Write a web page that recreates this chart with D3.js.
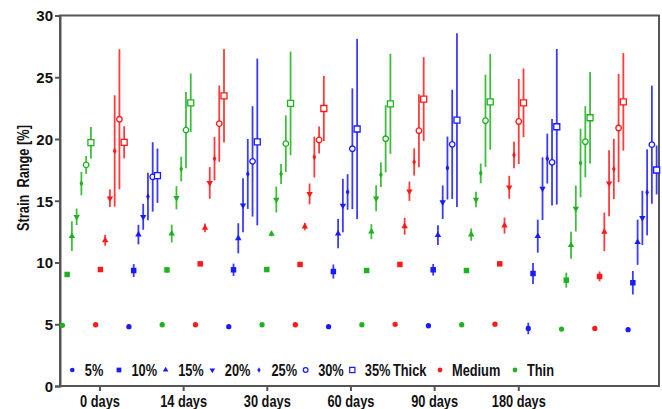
<!DOCTYPE html>
<html>
<head>
<meta charset="utf-8">
<script src="https://cdn.jsdelivr.net/npm/d3@7"></script>
<style>
  body { margin: 0; background: #fff; }
  svg { display: block; }
  .nar { font-family: "Liberation Sans", Arial, sans-serif; font-weight: bold; font-size: 16px; fill: #111; }
  .ytk { font-family: "Liberation Sans", Arial, sans-serif; font-weight: bold; font-size: 15px; fill: #111; }
</style>
</head>
<body>
<script>
// categories
const times = ['0 days', '14 days', '30 days', '60 days', '90 days', '180 days'];
const timeTickAt = [7.8, 25.4, 43.0, 60.6, 78.2, 95.9];   // slot position of each time label
const strains = ['5%', '10%', '15%', '20%', '25%', '30%', '35%'];
const materials = ['Thin', 'Medium', 'Thick'];           // drawing order inside each time
const yTicks = [0, 5, 10, 15, 20, 25, 30];

// mean strain range [%], rows = times, cols = strains
const thinMean = [
  [4.91, 9.03, 12.13, 13.70, 16.39, 17.90, 19.70],
  [4.96, 9.40, 12.34, 15.24, 17.57, 20.72, 22.93],
  [4.96, 9.43, 12.32, 15.10, 17.17, 19.62, 22.88],
  [4.96, 9.35, 12.50, 15.20, 17.11, 20.02, 22.85],
  [4.96, 9.35, 12.26, 15.10, 17.22, 21.48, 23.01],
  [4.61, 8.57, 11.40, 14.37, 18.06, 19.78, 21.72]
];
const thinErr = [
  [0.1, 0.15, 1.20, 0.67, 0.95, 0.72, 1.27],
  [0.1, 0.20, 0.72, 0.94, 1.00, 3.08, 2.37],
  [0.1, 0.15, 0.20, 1.05, 0.81, 2.29, 4.20],
  [0.1, 0.15, 0.61, 1.05, 1.00, 2.72, 4.05],
  [0.1, 0.15, 0.50, 0.63, 0.80, 3.73, 3.88],
  [0.1, 0.61, 1.10, 1.86, 2.78, 2.88, 3.71]
];
const mediumMean = [
  [4.96, 9.43, 11.80, 15.20, 19.03, 21.60, 19.73],
  [4.96, 9.89, 12.80, 16.44, 18.41, 21.24, 23.50],
  [4.96, 9.84, 12.91, 15.55, 18.54, 19.92, 22.47],
  [4.99, 9.84, 12.93, 15.77, 18.14, 20.67, 23.23],
  [5.01, 9.89, 12.99, 16.09, 18.70, 21.42, 22.93],
  [4.66, 8.87, 12.48, 16.41, 17.57, 20.89, 23.01]
];
const mediumErr = [
  [0.1, 0.1, 0.44, 0.71, 4.51, 5.67, 1.30],
  [0.1, 0.1, 0.36, 1.28, 1.76, 3.09, 3.79],
  [0.1, 0.1, 0.30, 0.84, 1.65, 1.10, 2.64],
  [0.1, 0.1, 0.68, 0.78, 1.10, 2.95, 3.40],
  [0.1, 0.1, 0.65, 0.93, 1.07, 3.44, 2.78],
  [0.1, 0.4, 1.56, 2.67, 2.44, 4.38, 3.95]
];
const thickMean = [
  [4.80, 9.35, 12.26, 13.70, 15.34, 16.93, 17.03],
  [4.80, 9.41, 11.96, 14.63, 17.17, 18.19, 19.76],
  [4.80, 9.27, 12.34, 14.61, 15.71, 19.21, 20.81],
  [4.88, 9.41, 12.21, 14.88, 17.65, 19.57, 21.53],
  [4.66, 9.11, 12.13, 15.98, 18.41, 18.11, 20.99],
  [4.56, 8.36, 11.64, 13.61, 15.68, 19.54, 17.49]
];
const thickErr = [
  [0.10, 0.52, 0.79, 1.05, 1.92, 2.81, 2.20],
  [0.10, 0.50, 1.22, 2.19, 2.83, 4.47, 6.75],
  [0.10, 0.57, 1.19, 2.17, 1.44, 4.89, 7.30],
  [0.10, 0.47, 0.80, 1.36, 2.55, 4.42, 7.04],
  [0.47, 0.85, 1.34, 2.54, 2.02, 3.50, 6.30],
  [0.10, 0.95, 1.83, 2.20, 3.48, 4.78, 1.98]
];

const w = 662, h = 409;
const squeeze = 'scale(0.8,1)';   // the original lettering is condensed
const colors = { Thin: '#1fb21f', Medium: '#ff1a1a', Thick: '#1a1aff' };
const means = { Thin: thinMean, Medium: mediumMean, Thick: thickMean };
const errs = { Thin: thinErr, Medium: mediumErr, Thick: thickErr };

// symbol per strain: [type, area, rotate, filled]
const shapes = [
  [d3.symbolCircle, 22, 0, true],
  [d3.symbolSquare, 30, 0, true],
  [d3.symbolTriangle, 18, 0, true],
  [d3.symbolTriangle, 18, 180, true],
  [d3.symbolDiamond, 12, 0, true],
  [d3.symbolCircle, 24, 0, false],
  [d3.symbolSquare, 36, 0, false]
];

let rows = [];
times.forEach((t, ti) => {
  materials.forEach((m, mi) => {
    strains.forEach((s, si) => {
      rows.push({ slot: ti * 21 + mi * 7 + si, mat: m, s: si,
                  v: means[m][ti][si], e: errs[m][ti][si] });
    });
  });
});

let svg = d3.select('body').append('svg')
  .attr('width', w).attr('height', h);

let x = d3.scaleLinear().domain([-0.5, 125.5]).range([60, 659]);
let y = d3.scaleLinear().domain([0, 30]).range([386, 15.5]);

// frame
svg.append('rect')
  .attr('x', 60).attr('y', 15.5).attr('width', 599).attr('height', 370.5)
  .attr('fill', 'none').attr('stroke', '#555').attr('stroke-width', 2);

// y axis
let yAxis = svg.append('g')
  .attr('transform', 'translate(60,0)')
  .call(d3.axisLeft(y).tickValues(yTicks).tickSize(5).tickPadding(2));
yAxis.select('.domain').attr('stroke', '#555').attr('stroke-width', 2);
yAxis.selectAll('.tick line').attr('stroke', '#555').attr('stroke-width', 2);
yAxis.selectAll('.tick text').attr('class', 'ytk').attr('dy', '0.35em');

// x axis
let xAxis = svg.append('g')
  .attr('transform', 'translate(0,386)')
  .call(d3.axisBottom(x).tickValues(timeTickAt).tickFormat((d, i) => times[i]).tickSize(5).tickPadding(2));
xAxis.select('.domain').remove();
xAxis.selectAll('.tick line').attr('stroke', '#555').attr('stroke-width', 2);
xAxis.selectAll('.tick text').attr('class', 'nar').attr('dy', '0.85em').attr('transform', squeeze);

// y title
svg.append('text')
  .attr('class', 'nar')
  .attr('transform', 'translate(29,178) rotate(-90) ' + squeeze)
  .attr('text-anchor', 'middle')
  .style('white-space', 'pre')
  .text('Strain  Range [%]');

// error bars
svg.append('g').selectAll('line')
  .data(rows.filter(d => d.e > 0.15))
  .enter().append('line')
  .attr('x1', d => x(d.slot)).attr('x2', d => x(d.slot))
  .attr('y1', d => y(d.v - d.e)).attr('y2', d => y(d.v + d.e))
  .attr('stroke', d => colors[d.mat]).attr('stroke-width', 1.8).attr('opacity', 0.85);

// markers
svg.append('g').selectAll('path')
  .data(rows)
  .enter().append('path')
  .attr('d', d => d3.symbol(shapes[d.s][0], shapes[d.s][1])())
  .attr('transform', d => `translate(${x(d.slot)},${y(d.v)}) rotate(${shapes[d.s][2]})`)
  .attr('fill', d => shapes[d.s][3] ? colors[d.mat] : '#fff')
  .attr('stroke', d => shapes[d.s][3] ? 'none' : colors[d.mat])
  .attr('stroke-width', 1.3);

// legend
let leg = svg.append('g').attr('transform', 'translate(0,370)');
let legText = (lx, txt) => leg.append('text').attr('class', 'nar')
  .attr('transform', `translate(${lx},0) ${squeeze}`).attr('dy', '0.35em').text(txt);
strains.forEach((s, i) => {
  let lx = 72.3 + i * 46.67;
  leg.append('path')
    .attr('d', d3.symbol(shapes[i][0], shapes[i][1] * 0.75)())
    .attr('transform', `translate(${lx},0) rotate(${shapes[i][2]})`)
    .attr('fill', shapes[i][3] ? colors.Thick : '#fff')
    .attr('stroke', shapes[i][3] ? 'none' : colors.Thick)
    .attr('stroke-width', 1.2);
  legText(lx + 12.5, s);
});
legText(393, 'Thick');
[['Medium', 440], ['Thin', 515]].forEach(([m, lx]) => {
  leg.append('path')
    .attr('d', d3.symbol(d3.symbolCircle, 18)())
    .attr('transform', `translate(${lx},0)`)
    .attr('fill', colors[m]);
  legText(lx + 12, m);
});
</script>
</body>
</html>
